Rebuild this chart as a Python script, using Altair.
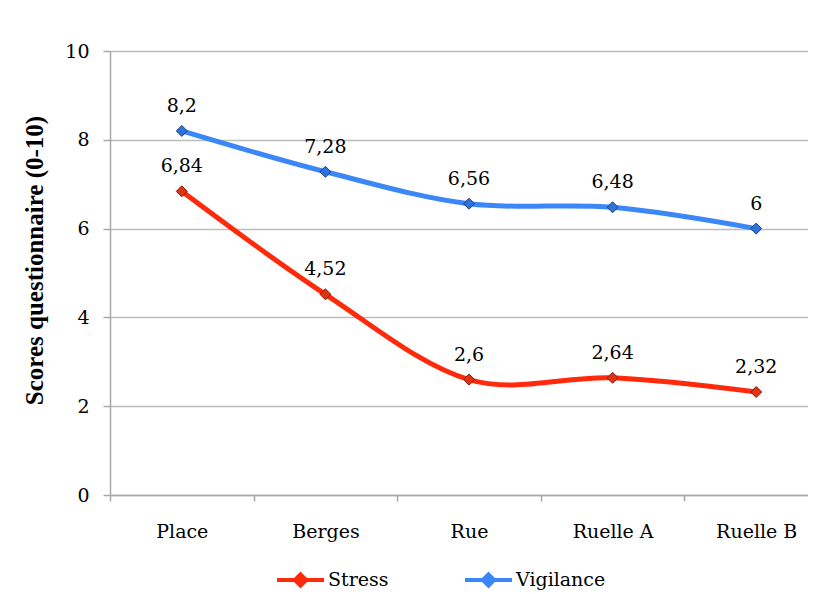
import altair as alt
import pandas as pd

categories = ["Place", "Berges", "Rue", "Ruelle A", "Ruelle B"]
stress = [6.84, 4.52, 2.6, 2.64, 2.32]
vigilance = [8.2, 7.28, 6.56, 6.48, 6.0]
series_names = ["Stress", "Vigilance"]
y_ticks = [0, 2, 4, 6, 8, 10]

rows = []
for name, vals in zip(series_names, [stress, vigilance]):
    for c, v in zip(categories, vals):
        rows.append({"cat": c, "serie": name, "val": v,
                     "label": f"{v:g}".replace(".", ",")})
df = pd.DataFrame(rows)

FONT = "DejaVu Serif"
TFONT = "Liberation Serif"
FS = 19
line_colors = ["#FF2A0C", "#3B87F7"]
pt_fill = ["#E2320F", "#2F73DA"]
pt_stroke = ["#8A1A05", "#183F86"]

W, H = 698, 444

x_enc = alt.X("cat:N", sort=categories,
              scale=alt.Scale(type="band", range=[0, 718], paddingInner=0, paddingOuter=0),
              axis=alt.Axis(title=None, labelAngle=0, labelFont=FONT, labelFontSize=FS,
                            labelColor="#000000", labelPadding=21, tickBand="extent",
                            tickSize=6, tickColor="#A8A8A8", domainColor="#A8A8A8",
                            domainWidth=1.5, tickWidth=1.5, grid=False))
y_enc = alt.Y("val:Q", scale=alt.Scale(domain=[0, 10], nice=False),
              axis=alt.Axis(values=y_ticks, title="Scores questionnaire (0-10)",
                            titleFont=TFONT, titleFontSize=25, titleFontWeight="bold",
                            titleColor="#000000", titleX=-63, titleY=209,
                            labelFont=FONT, labelFontSize=FS, labelColor="#000000",
                            labelPadding=14, tickSize=7, tickColor="#A8A8A8",
                            domainColor="#A8A8A8", domainWidth=1.5, tickWidth=1.5,
                            grid=True, gridColor="#BDBDBD", gridWidth=1.5))

color_line = alt.Color("serie:N", scale=alt.Scale(domain=series_names, range=line_colors),
                       legend=alt.Legend(title=None, orient="none", legendX=165, legendY=503,
                                         direction="horizontal", labelFont=FONT,
                                         labelFontSize=FS, labelColor="#000000",
                                         symbolType="M-1,0H1M0,-0.24L0.24,0L0,0.24L-0.24,0Z",
                                         symbolSize=2209, symbolStrokeWidth=4,
                                         columnPadding=68, labelOffset=2, padding=0))

base = alt.Chart(df)

lines = base.mark_line(interpolate="cardinal", strokeWidth=5).encode(
    x=x_enc, y=y_enc, color=color_line)

points = base.mark_point(shape="diamond", filled=True, size=120, opacity=1,
                         strokeWidth=1).encode(
    x=alt.X("cat:N", sort=categories),
    y="val:Q",
    fill=alt.Fill("serie:N", scale=alt.Scale(domain=series_names, range=pt_fill), legend=None),
    stroke=alt.Stroke("serie:N", scale=alt.Scale(domain=series_names, range=pt_stroke), legend=None))

labels = base.mark_text(font=FONT, fontSize=FS, color="#000000", dy=-19,
                        baseline="alphabetic").encode(
    x=alt.X("cat:N", sort=categories), y="val:Q", text="label:N")

chart = alt.layer(lines, points, labels).properties(
    width=W, height=H,
    autosize=alt.AutoSizeParams(type="none"),
    padding={"left": 102, "top": 43, "right": 0, "bottom": 99},
).configure_view(stroke=None).configure(background="#FFFFFF")

chart.save("out.html", embed_options={"renderer": "svg", "actions": False})
